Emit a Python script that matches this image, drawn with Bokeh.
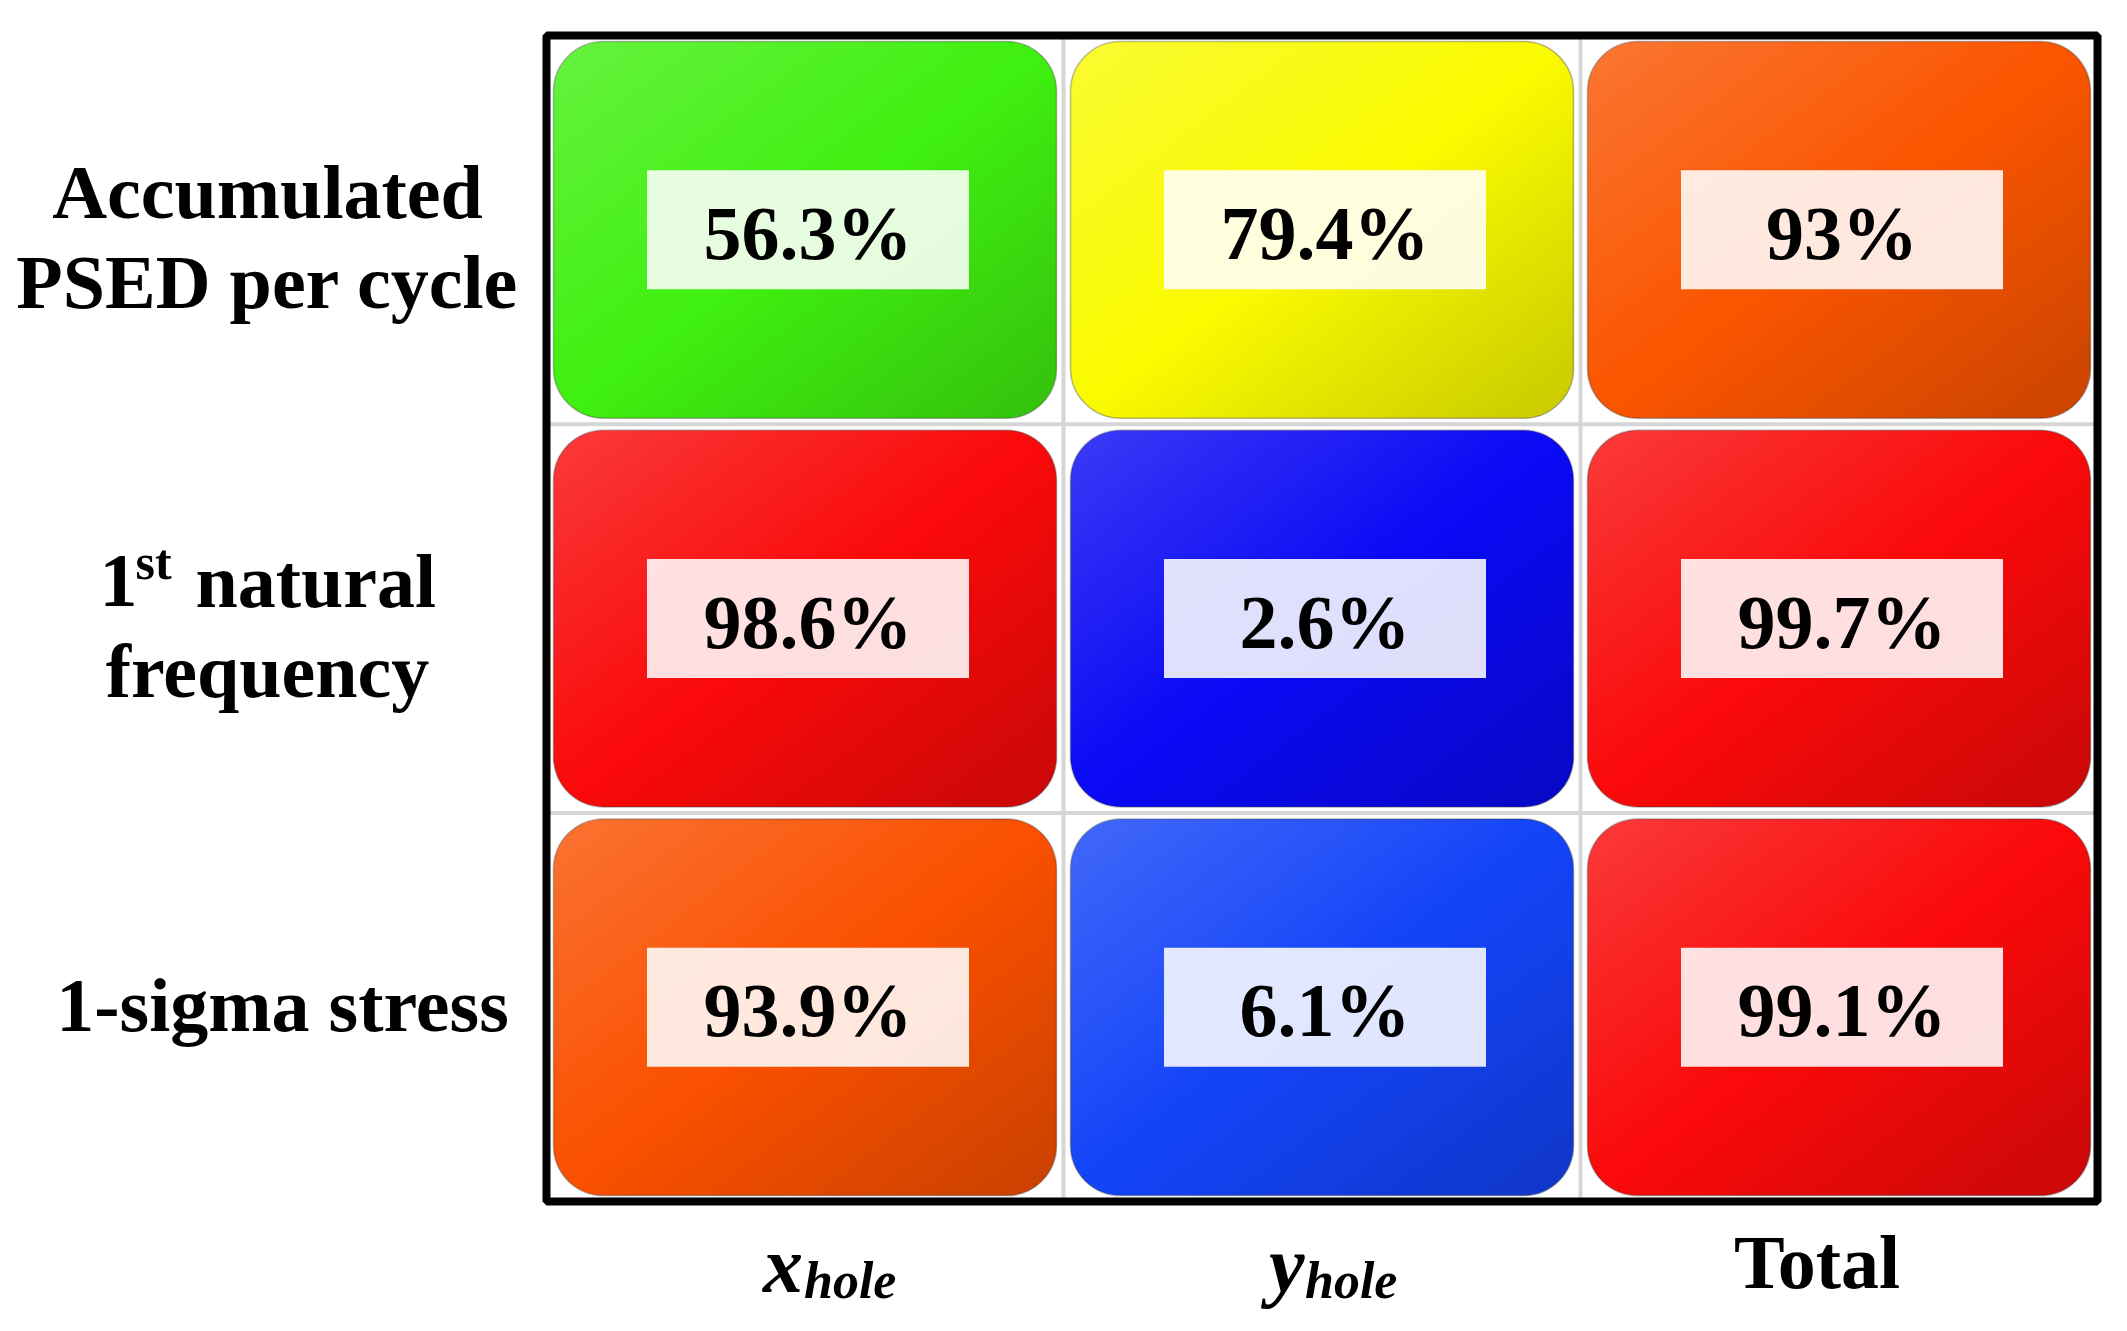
import numpy as np
from bokeh.plotting import figure
from bokeh.core.properties import value
from bokeh.embed import file_html
from bokeh.resources import INLINE

# ---------------- data ----------------
row_lines = [["Accumulated", "PSED per cycle"], ["1st natural", "frequency"], ["1-sigma stress"]]
col_main = ["x", "y", "Total"]
col_sub = ["hole", "hole", ""]
values = [[56.3, 79.4, 93.0],
          [98.6, 2.6, 99.7],
          [93.9, 6.1, 99.1]]
colors = [["#40F010", "#FAFA00", "#FA5500"],
          ["#FA0A0A", "#0A0AF5", "#FA0A0A"],
          ["#FA5000", "#1444F8", "#FA0A0A"]]

# ---------------- layout (pixels) ----------------
FIG_W, FIG_H = 2110, 1315
X0, UX = 546.0, 517.0        # px of data x=0, px per column
Y0, UY = 35.0, 388.7         # px (from top) of data y=3, px per row
n_rows, n_cols = len(values), len(values[0])

FONT = value("Liberation Serif")
FS = "76px"

p = figure(width=FIG_W, height=FIG_H, output_backend="svg", toolbar_location=None,
           x_range=(-X0 / UX, (FIG_W - X0) / UX),
           y_range=(n_rows - (FIG_H - Y0) / UY, n_rows + Y0 / UY),
           x_axis_location=None, y_axis_location=None, min_border=0)
p.outline_line_color = None
p.xgrid.visible = False
p.ygrid.visible = False
p.background_fill_color = "white"
p.border_fill_color = "white"

# light grid separators
gx = list(range(1, n_cols))
gy = list(range(1, n_rows))
p.segment(x0=gx, y0=[0] * len(gx), x1=gx, y1=[n_rows] * len(gx), line_color="#D6D6D6", line_width=4)
p.segment(x0=[0] * len(gy), y0=gy, x1=[n_cols] * len(gy), y1=gy, line_color="#D6D6D6", line_width=4)

# cells
INSET_X, INSET_Y = 7 / UX, 6 / UY
RADIUS = 50
cx, cy, fc, labels = [], [], [], []
for r in range(n_rows):
    for c in range(n_cols):
        cx.append(c + 0.5)
        cy.append(n_rows - r - 0.5)
        fc.append(colors[r][c])
        labels.append(f"{values[r][c]:g}%")
cx = np.array(cx); cy = np.array(cy)
p.quad(left=cx - 0.5 + INSET_X, right=cx + 0.5 - INSET_X,
       bottom=cy - 0.5 + INSET_Y, top=cy + 0.5 - INSET_Y,
       fill_color=fc, line_color="#333333", line_alpha=0.35, line_width=1.5,
       border_radius=RADIUS)

# gradient shading overlay (light top-left, dark bottom-right), rounded mask
cw_px = UX - 2 * INSET_X * UX
ch_px = UY - 2 * INSET_Y * UY
W, H = int(cw_px / 2), int(ch_px / 2)
rad = RADIUS / 2.0
jj, ii = np.meshgrid(np.arange(W) + 0.5, np.arange(H) + 0.5)
u = jj / W
v = 1.0 - ii / H            # row 0 is bottom
s = (u + v) - 1.0
dxc = np.maximum(np.maximum(rad - jj, jj - (W - rad)), 0)
dyc = np.maximum(np.maximum(rad - ii, ii - (H - rad)), 0)
d = np.sqrt(dxc ** 2 + dyc ** 2)
mask = np.clip(rad - d + 0.5, 0, 1)
img = np.zeros((H, W), dtype=np.uint32)
view = img.view(dtype=np.uint8).reshape((H, W, 4))
white = s < 0
view[..., 0] = np.where(white, 255, 0)
view[..., 1] = np.where(white, 255, 0)
view[..., 2] = np.where(white, 255, 0)
alpha = np.where(white, 0.2 * (-s), 0.2 * s) * mask
view[..., 3] = (alpha * 255).astype(np.uint8)
p.image_rgba(image=[img] * len(cx), x=list(cx - 0.5 + INSET_X), y=list(cy - 0.5 + INSET_Y),
             dw=[cw_px / UX] * len(cx), dh=[ch_px / UY] * len(cx))

# value boxes
BW, BH = 322 / UX, 119 / UY
p.quad(left=cx - BW / 2 + 3 / UX, right=cx + BW / 2 + 3 / UX, bottom=cy - BH / 2, top=cy + BH / 2,
       fill_color="white", fill_alpha=0.87, line_color=None)
p.text(x=list(cx), y=list(cy), text=labels, text_font=FONT, text_font_style="bold",
       text_font_size=FS, text_align="center", text_baseline="alphabetic",
       x_offset=3, y_offset=3, text_color="black")

# frame
p.quad(left=[0], right=[n_cols], bottom=[0], top=[n_rows], fill_color=None,
       line_color="black", line_width=8)

# row labels
LX = -279 / UX
for r, lines in enumerate(row_lines):
    yc = n_rows - r - 0.5
    offs = [-38, 52] if len(lines) == 2 else [-2]
    xo = 0 if len(lines) == 2 else 15
    for line, off in zip(lines, offs):
        if line.startswith("1st"):
            rest = line[3:].strip()
            p.text(x=[LX], y=[yc], text=["1"], text_font=FONT, text_font_style="bold",
                   text_font_size=FS, text_align="left", text_baseline="alphabetic",
                   x_offset=-168, y_offset=off)
            p.text(x=[LX], y=[yc], text=["st"], text_font=FONT, text_font_style="bold",
                   text_font_size="50px", text_align="left", text_baseline="alphabetic",
                   x_offset=-132, y_offset=off - 19)
            p.text(x=[LX], y=[yc], text=[rest], text_font=FONT, text_font_style="bold",
                   text_font_size=FS, text_align="left", text_baseline="alphabetic",
                   x_offset=-72, y_offset=off)
        else:
            p.text(x=[LX], y=[yc], text=[line], text_font=FONT, text_font_style="bold",
                   text_font_size=FS, text_align="center", text_baseline="alphabetic",
                   x_offset=xo, y_offset=off)

# column labels
for c in range(n_cols):
    xc = c + 0.5
    if col_sub[c]:
        main_off = -42 if col_main[c] == "x" else -53
        p.text(x=[xc], y=[0], text=[col_main[c]], text_font=FONT, text_font_style="bold italic",
               text_font_size="80px", text_align="left", text_baseline="alphabetic",
               x_offset=main_off, y_offset=63)
        p.text(x=[xc], y=[0], text=[col_sub[c]], text_font=FONT, text_font_style="bold italic",
               text_font_size="52px", text_align="left", text_baseline="alphabetic",
               x_offset=main_off + (41 if col_main[c] == "x" else 36), y_offset=79)
    else:
        p.text(x=[xc], y=[0], text=[col_main[c]], text_font=FONT, text_font_style="bold",
               text_font_size=FS, text_align="center", text_baseline="alphabetic",
               x_offset=-22, y_offset=60)

open("out.html", "w").write(file_html(p, INLINE))
